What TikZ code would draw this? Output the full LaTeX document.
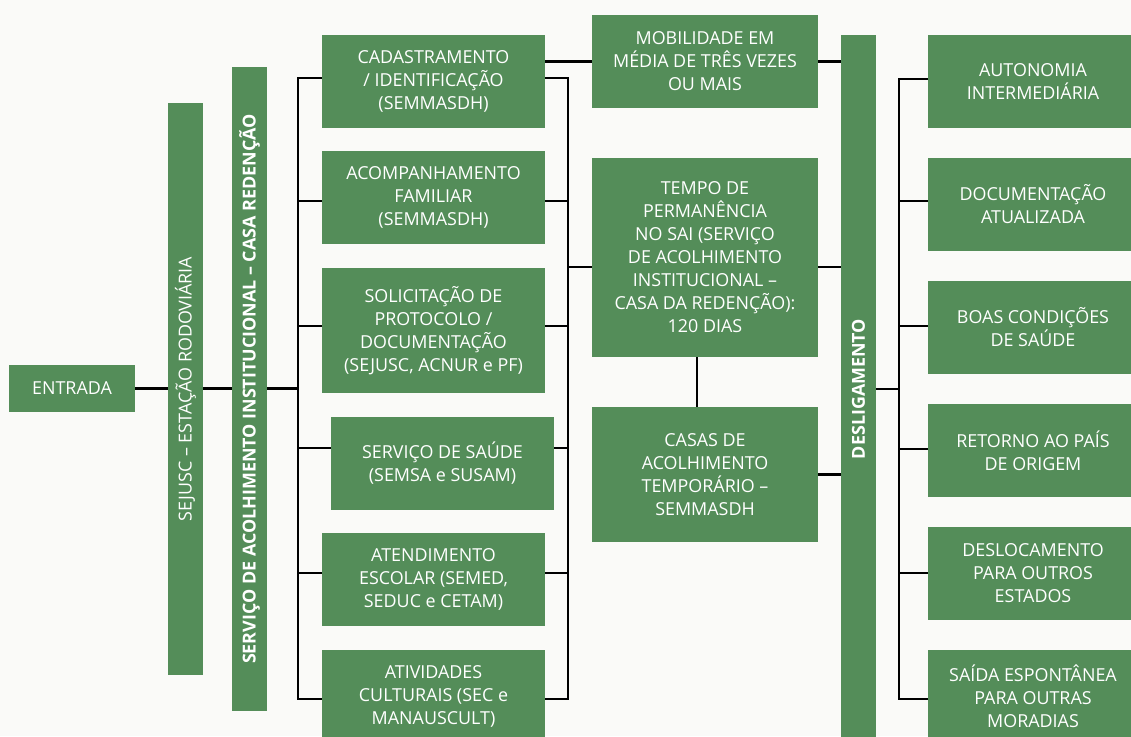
\documentclass[tikz,border=0pt]{standalone}
\usepackage{fontspec}
\usepackage{graphicx}
\setmainfont{Open Sans}
\definecolor{leafgreen}{RGB}{84,141,89}
\definecolor{paper}{RGB}{250,250,248}
\tikzset{
  box/.style={fill=leafgreen, text=white, align=center, inner sep=0pt,
    font=\fontsize{17.9}{23}\selectfont},
  midbox/.style={box, minimum width=223pt, minimum height=93pt},
  sidebox/.style={box, minimum width=226pt},
  endbox/.style={box, minimum width=210pt, minimum height=93pt},
  bar/.style={box, minimum width=35pt},
  link/.style={line width=2.6pt, black, line join=miter}
}
\begin{document}
\begin{tikzpicture}[x=1pt, y=-1pt]
  % canvas
  \useasboundingbox (0,0) rectangle (1131,736);
  \fill[paper] (0,0) rectangle (1131,736);
  \clip (0,0) rectangle (1131,736);

  % entry and the two vertical bars
  \node[box, minimum width=126pt, minimum height=47pt] (entrada) at (72,388.5) {ENTRADA};
  \node[bar, minimum height=572pt] (sejusc) at (185.5,389) {\rotatebox{90}{SEJUSC – ESTAÇÃO RODOVIÁRIA}};
  \node[bar, minimum height=644pt] (sai) at (249.5,389) {\rotatebox{90}{\bfseries SERVIÇO DE ACOLHIMENTO INSTITUCIONAL – CASA REDENÇÃO}};

  % services
  \node[midbox] (cad) at (433.5,81.5) {CADASTRAMENTO\\/ IDENTIFICAÇÃO\\(SEMMASDH)};
  \node[midbox] (aco) at (433.5,197.5) {ACOMPANHAMENTO\\FAMILIAR\\(SEMMASDH)};
  \node[midbox, minimum height=125pt] (sol) at (433.5,330.5) {SOLICITAÇÃO DE\\PROTOCOLO /\\DOCUMENTAÇÃO\\(SEJUSC, ACNUR e PF)};
  \node[midbox] (sau) at (442.5,463.5) {SERVIÇO DE SAÚDE\\(SEMSA e SUSAM)};
  \node[midbox] (ate) at (433.5,579.5) {ATENDIMENTO\\ESCOLAR (SEMED,\\SEDUC e CETAM)};
  \node[midbox] (ati) at (433.5,696.5) {ATIVIDADES\\CULTURAIS (SEC e\\MANAUSCULT)};

  % stay
  \node[sidebox, minimum height=93pt] (mob) at (705,61.5) {MOBILIDADE EM\\MÉDIA DE TRÊS VEZES\\OU MAIS};
  \node[sidebox, minimum height=199pt] (tempo) at (705,257.5) {TEMPO DE\\PERMANÊNCIA\\NO SAI (SERVIÇO\\DE ACOLHIMENTO\\INSTITUCIONAL –\\CASA DA REDENÇÃO):\\120 DIAS};
  \node[sidebox, minimum height=135pt] (casas) at (705,474.5) {CASAS DE\\ACOLHIMENTO\\TEMPORÁRIO –\\SEMMASDH};

  % exit
  \node[bar, minimum height=708pt] (desl) at (858.5,389) {\rotatebox{90}{\bfseries DESLIGAMENTO}};
  \node[endbox] (aut) at (1033,81.5) {AUTONOMIA\\INTERMEDIÁRIA};
  \node[endbox] (doc) at (1033,204.5) {DOCUMENTAÇÃO\\ATUALIZADA};
  \node[endbox] (boas) at (1033,327.5) {BOAS CONDIÇÕES\\DE SAÚDE};
  \node[endbox] (ret) at (1033,450.5) {RETORNO AO PAÍS\\DE ORIGEM};
  \node[endbox] (desloc) at (1033,573) {DESLOCAMENTO\\PARA OUTROS\\ESTADOS};
  \node[endbox] (saida) at (1033,696.5) {SAÍDA ESPONTÂNEA\\PARA OUTRAS\\MORADIAS};

  % bus taps
  \foreach \n/\y in {cad/78, aco/201, sol/326, sau/448, ate/573, ati/699} {
    \coordinate (l\n) at (298,\y);
    \coordinate (r\n) at (568,\y);
  }
  \foreach \n/\y in {aut/79, doc/201, boas/326, ret/449, desloc/573, saida/699}
    \coordinate (q\n) at (899,\y);
  \coordinate (rtempo) at (568,267);
  \coordinate (drop) at (697,357);

  % entry chain
  \draw[link] (entrada.east) -- (entrada.east -| sejusc.west);
  \draw[link] (sejusc.east |- entrada.east) -- (sai.west |- entrada.east);
  \draw[link] (sai.east |- entrada.east) -- (lsau |- entrada.east);

  % left bus
  \draw[link] (lcad -| cad.west) -- (lcad) -- (lati) -- (lati -| ati.west);
  \foreach \n in {aco,sol,sau,ate}
    \draw[link] (l\n) -- (l\n -| \n.west);

  % right bus
  \draw[link] (rcad -| cad.east) -- (rcad) -- (rati) -- (rati -| ati.east);
  \foreach \n in {aco,sol,sau,ate}
    \draw[link] (r\n -| \n.east) -- (r\n);
  \draw[link] (rtempo) -- (rtempo -| tempo.west);

  % stay links
  \draw[link] (mob.west -| cad.east) -- (mob.west);
  \draw[link] (mob.east) -- (mob.east -| desl.west);
  \draw[link] (tempo.east |- rtempo) -- (desl.west |- rtempo);
  \draw[link] (drop) -- (drop |- casas.north);
  \draw[link] (casas.east) -- (casas.east -| desl.west);

  % exit bus
  \draw[link] (desl.east) -- (desl.east -| qret);
  \draw[link] (qaut -| aut.west) -- (qaut) -- (qsaida) -- (qsaida -| saida.west);
  \foreach \n in {doc,boas,ret,desloc}
    \draw[link] (q\n) -- (q\n -| \n.west);
\end{tikzpicture}
\end{document}
